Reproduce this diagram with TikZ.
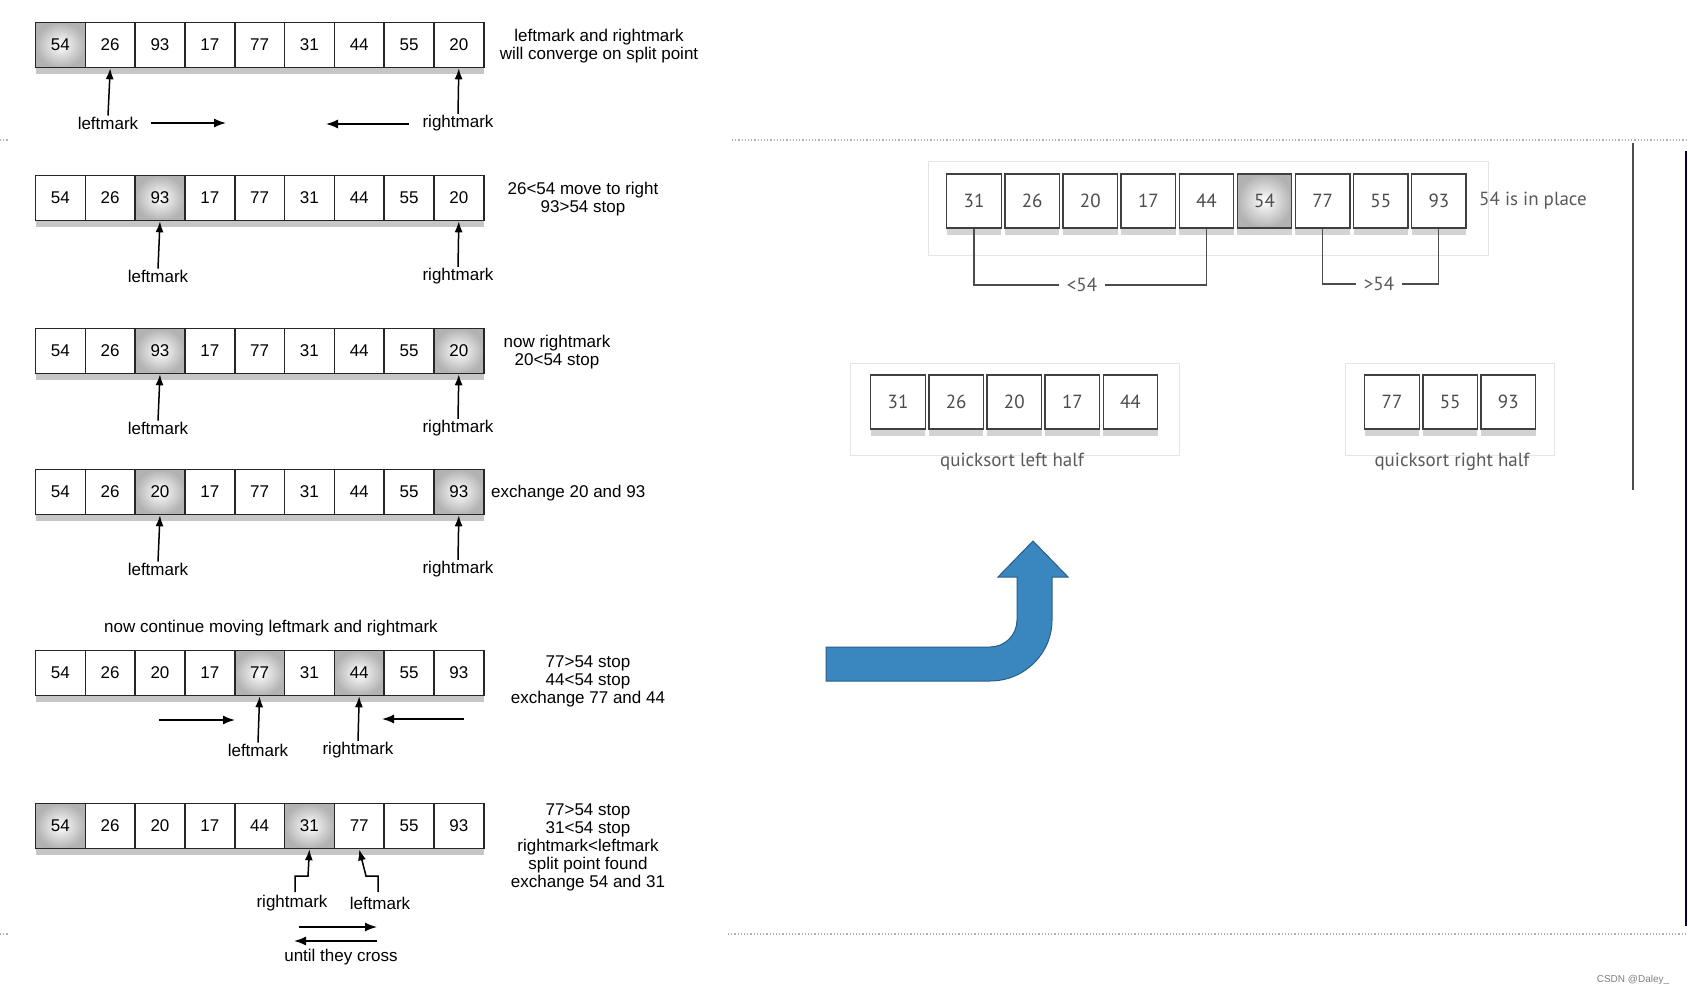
\documentclass[tikz,border=0pt]{standalone}
\usepackage{fontspec}
\setmainfont{Liberation Sans}
\newfontfamily\rfont{PT Sans}
\usetikzlibrary{shadows,arrows.meta}
\definecolor{arrblue}{HTML}{3A87C0}
\begin{document}
\begin{tikzpicture}[x=1pt,y=-1pt,
  cell/.style={draw=black!85,line width=1.6pt,fill=white,minimum width=49.8pt,minimum height=45pt,inner sep=0pt,
     font=\fontsize{17}{19}\selectfont,drop shadow={shadow xshift=0pt,shadow yshift=-6pt,opacity=0.45}},
  sh/.style={inner color=white,outer color=gray!60},
  pl/.style={},
  rcell/.style={draw=black!75,line width=1.3pt,fill=white,minimum width=54.5pt,minimum height=54pt,inner sep=0pt,
     font=\rfont\fontsize{19}{21}\selectfont,text=black!70,drop shadow={shadow xshift=0pt,shadow yshift=-7pt,opacity=0.35}},
  lab/.style={font=\fontsize{17}{19}\selectfont,inner sep=1pt,align=center},
  rlab/.style={font=\rfont\fontsize{19}{21}\selectfont,text=black!65,inner sep=1pt},
  up/.style={-{Latex[length=11pt,width=8pt]},line width=1.5pt},
  hz/.style={-{Latex[length=12pt,width=9pt]},line width=1.5pt},
  dots/.style={gray!60,dotted,line width=1.2pt},
  bg/.style={draw=gray!20,line width=0.6pt}
]
\useasboundingbox (0,0) rectangle (1688,996);
% separators
\draw[dots] (732,140) -- (1688,140);
\draw[dots] (0,140) -- (8,140);
\draw[dots] (728,934) -- (1688,934);
\draw[dots] (0,934) -- (8,934);
\draw[black!70,line width=1.3pt] (1633,143) -- (1633,490);
\draw[black!80!blue,line width=2pt] (1686,151) -- (1686,926);

% left rows
\foreach \v/\t [count=\i] in {54/sh,26/pl,93/pl,17/pl,77/pl,31/pl,44/pl,55/pl,20/pl}
  \node[cell,\t] (a\i) at ({35.5+49.8*(\i-0.5)},45) {\v};
\foreach \v/\t [count=\i] in {54/pl,26/pl,93/sh,17/pl,77/pl,31/pl,44/pl,55/pl,20/pl}
  \node[cell,\t] (b\i) at ({35.5+49.8*(\i-0.5)},198) {\v};
\foreach \v/\t [count=\i] in {54/pl,26/pl,93/sh,17/pl,77/pl,31/pl,44/pl,55/pl,20/sh}
  \node[cell,\t] (c\i) at ({35.5+49.8*(\i-0.5)},351) {\v};
\foreach \v/\t [count=\i] in {54/pl,26/pl,20/sh,17/pl,77/pl,31/pl,44/pl,55/pl,93/sh}
  \node[cell,\t] (d\i) at ({35.5+49.8*(\i-0.5)},492) {\v};
\foreach \v/\t [count=\i] in {54/pl,26/pl,20/pl,17/pl,77/sh,31/pl,44/sh,55/pl,93/pl}
  \node[cell,\t] (e\i) at ({35.5+49.8*(\i-0.5)},673) {\v};
\foreach \v/\t [count=\i] in {54/sh,26/pl,20/pl,17/pl,44/pl,31/sh,77/pl,55/pl,93/pl}
  \node[cell,\t] (f\i) at ({35.5+49.8*(\i-0.5)},826) {\v};

% row 1
\node[lab] (aL) at (108,123) {leftmark};
\node[lab] (aR) at (458,123) {rightmark};
\draw[up] (aL.north) -- (a2.south);
\draw[up] (aR.north) -- (a9.south);
\coordinate (a1s) at (151,123); \coordinate (a1e) at (226,123);
\coordinate (a2s) at (409,124); \coordinate (a2e) at (326,124);
\draw[hz] (a1s) -- (a1e);
\draw[hz] (a2s) -- (a2e);
\node[lab] (aT) at (599,46) {leftmark and rightmark\\[-1pt]will converge on split point};

% row 2
\node[lab] (bL) at (158,276) {leftmark};
\node[lab] (bR) at (458,276) {rightmark};
\draw[up] (bL.north) -- (b3.south);
\draw[up] (bR.north) -- (b9.south);
\node[lab] (bT) at (583,199) {26<54 move to right\\[-1pt]93>54 stop};

% row 3
\node[lab] (cL) at (158,428) {leftmark};
\node[lab] (cR) at (458,428) {rightmark};
\draw[up] (cL.north) -- (c3.south);
\draw[up] (cR.north) -- (c9.south);
\node[lab] (cT) at (557,352) {now rightmark\\[-1pt]20<54 stop};

% row 4
\node[lab] (dL) at (158,569) {leftmark};
\node[lab] (dR) at (458,569) {rightmark};
\draw[up] (dL.north) -- (d3.south);
\draw[up] (dR.north) -- (d9.south);
\node[lab,anchor=west] (dT) at (490,493) {exchange 20 and 93};

% row 5
\node[lab] (eH) at (271,628) {now continue moving leftmark and rightmark};
\node[lab] (eL) at (258,750) {leftmark};
\node[lab] (eR) at (358,750) {rightmark};
\draw[up] (eL.north) -- (e5.south);
\draw[up] (eR.north) -- (e7.south);
\coordinate (e1s) at (159,720); \coordinate (e1e) at (235,720);
\coordinate (e2s) at (464,719); \coordinate (e2e) at (382,719);
\draw[hz] (e1s) -- (e1e);
\draw[hz] (e2s) -- (e2e);
\node[lab] (eT) at (588,681) {77>54 stop\\[-1pt]44<54 stop\\[-1pt]exchange 77 and 44};

% row 6
\node[lab] (fR) at (292,903) {rightmark};
\node[lab] (fL) at (380,903) {leftmark};
\draw[up] (295,892) -- (295,876) -- (308,876) -- (f6.south);
\draw[up] (378,892) -- (378,876) -- (366,876) -- (f7.south);
\coordinate (f1s) at (299,927); \coordinate (f1e) at (377,927);
\coordinate (f2s) at (377,941); \coordinate (f2e) at (294,941);
\draw[hz] (f1s) -- (f1e);
\draw[hz] (f2s) -- (f2e);
\node[lab] (fU) at (341,957) {until they cross};
\node[lab] (fT) at (588,847) {77>54 stop\\[-1pt]31<54 stop\\[-1pt]rightmark<leftmark\\[-1pt]split point found\\[-1pt]exchange 54 and 31};

% right panel
\draw[bg] (928,161) rectangle (1488,255);
\draw[bg] (850,363) rectangle (1179,455);
\draw[bg] (1345,363) rectangle (1554,455);
\foreach \v/\t [count=\i] in {31/pl,26/pl,20/pl,17/pl,44/pl,54/sh,77/pl,55/pl,93/pl}
  \node[rcell,\t] (g\i) at ({945+58.1*(\i-0.5)},201) {\v};
\node[rlab,anchor=west] (gT) at (1478,201) {54 is in place};
\node[rlab,inner xsep=8pt] (lt) at (1082,285) {<54};
\node[rlab,inner xsep=8pt] (gtl) at (1379,284) {>54};
\draw[black!70,line width=1.2pt] (g1.south) -- (g1.south |- lt) -- (lt.west);
\draw[black!70,line width=1.2pt] (lt.east) -- (g5.south |- lt) -- (g5.south);
\draw[black!70,line width=1.2pt] (g7.south) -- (g7.south |- gtl) -- (gtl.west);
\draw[black!70,line width=1.2pt] (gtl.east) -- (g9.south |- gtl) -- (g9.south);

\foreach \v [count=\i] in {31,26,20,17,44}
  \node[rcell] (h\i) at ({869+58.1*(\i-0.5)},402) {\v};
\foreach \v [count=\i] in {77,55,93}
  \node[rcell] (k\i) at ({1363+58.1*(\i-0.5)},402) {\v};
\node[rlab] (hT) at (1012,462) {quicksort left half};
\node[rlab] (kT) at (1452,462) {quicksort right half};

% blue arrow
\draw[fill=arrblue,draw=arrblue!70!black,line width=1pt]
  (826,647) -- (990,647) .. controls (1005,647) and (1017,635) .. (1017,620) -- (1017,577) -- (998,577)
  -- (1033,541) -- (1068,577) -- (1052,577) -- (1052,620)
  .. controls (1052,654) and (1024,681) .. (990,681) -- (826,681) -- cycle;

\node[font=\fontsize{10}{12}\selectfont,text=gray] (wm) at (1633,980) {CSDN @Daley\_};
\end{tikzpicture}
\end{document}
